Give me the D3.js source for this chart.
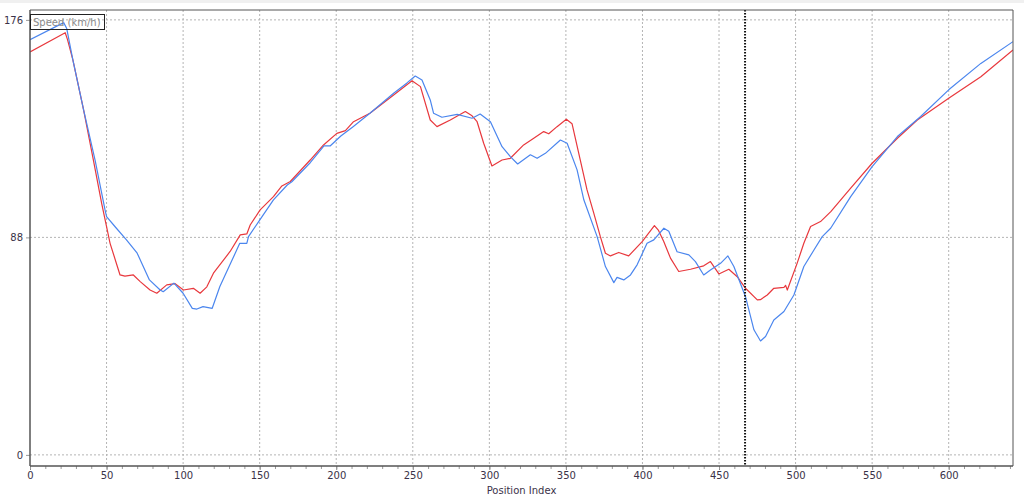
<!DOCTYPE html>
<html>
<head>
<meta charset="utf-8">
<script src="https://cdn.jsdelivr.net/npm/d3@7"></script>
<style>
  html, body { margin: 0; padding: 0; background: #ffffff; }
  svg { display: block; }
  text { font-family: "DejaVu Sans", Verdana, sans-serif; }
</style>
</head>
<body>
<svg id="chart" width="1024" height="496"></svg>
<script>
// ---- data ----
const xMajorTicks = [0, 50, 100, 150, 200, 250, 300, 350, 400, 450, 500, 550, 600];
const yTicks = [0, 88, 176];
const cursorIndex = 467;
const seriesLabel = "Speed (km/h)";
const xAxisTitle = "Position Index";

const blueIndex = [0, 22, 24, 28, 35, 42.5, 49, 50, 56, 63, 70, 78, 85, 87, 94, 100, 106, 109, 113, 119, 124, 131, 137, 141.6, 142.7, 150, 159, 168, 171, 183, 192, 196, 203, 211, 222, 237.5, 246, 251.6, 256, 261.4, 263.6, 269, 279, 288.7, 294, 300.7, 308.3, 313.7, 318.5, 326.8, 331.2, 336.6, 346.4, 350.8, 357.3, 361.7, 370.4, 375.8, 381.3, 383.4, 387.8, 392.2, 396.5, 403, 407.4, 414, 417.2, 422.6, 430.3, 434.6, 440, 444.4, 451, 455.8, 459.7, 467.3, 472.8, 477.1, 480.4, 485.8, 492.4, 498.9, 505.4, 512, 517.4, 522.9, 536, 550, 566.5, 581.7, 600, 621, 642];
const blueSpeed = [168, 174.9, 172.5, 159.8, 139.6, 119.3, 99.1, 96.4, 92, 87, 81.6, 70.8, 66.7, 66, 69.5, 65.4, 59.3, 59, 60, 59.3, 68.1, 77.5, 85.6, 85.6, 88.3, 95, 103.2, 109.2, 110.5, 118.2, 125, 125, 129, 132.8, 138.2, 146.3, 150.4, 153.3, 151.7, 143.6, 138.2, 136.6, 137.8, 136.2, 137.9, 134.8, 124.7, 120.7, 117.7, 121.4, 120, 122, 127.4, 126.1, 115.3, 103.2, 88.3, 76.2, 69.7, 71.8, 70.8, 72.8, 76.9, 85.6, 87, 91.7, 90.5, 82.2, 80.9, 78.2, 72.8, 74.8, 77.5, 80.5, 76.2, 64, 50.6, 46.1, 47.9, 54.6, 58, 64.7, 76.2, 82.9, 88.3, 91.7, 104.5, 116.6, 128.8, 136.9, 147.7, 158.4, 167.2];

const redIndex = [0, 23, 24.5, 28, 35, 41.4, 46.8, 52.3, 58.8, 62, 67.5, 72, 78.4, 82.8, 89.3, 94.8, 100.2, 106.7, 111.1, 115.5, 119.8, 130.7, 137.3, 141.6, 143.8, 150.3, 159, 164.5, 170, 183, 191.7, 200.4, 206, 211.3, 222, 237.5, 249.5, 255, 261.4, 265.8, 274.5, 284.3, 288.7, 292, 296.3, 301.7, 308.3, 313.7, 322.4, 329, 335.5, 338.8, 344.2, 350.3, 354, 358.4, 363.8, 368.2, 372.5, 375.8, 379.1, 384.5, 391, 399.8, 407.8, 410.5, 413.9, 418.3, 423.7, 431.4, 440, 444.4, 449.9, 456.4, 461.9, 467.3, 475, 477, 481.5, 485.8, 492.4, 493.5, 494.6, 501, 505.4, 509.8, 516.3, 523, 536, 550, 566.5, 579.5, 600, 621, 642];
const redSpeed = [163, 170.8, 168, 159.8, 139.6, 119.3, 101.8, 85.6, 72.8, 72.3, 72.8, 70.1, 66.7, 65.4, 68.8, 69.3, 66.7, 67.4, 65.4, 68, 73.5, 82.3, 89, 89.4, 93, 99.1, 104.5, 108.8, 110.6, 119.3, 125.4, 130.1, 131.2, 134.8, 138.2, 145.6, 151.4, 149, 135.5, 132.8, 135.5, 138.9, 137.2, 134.8, 126.1, 116.9, 119.3, 120, 125.4, 128.1, 130.8, 129.9, 132.8, 135.8, 134, 122, 107.2, 97.8, 88.3, 81.6, 80.5, 81.9, 80.5, 86.3, 92.8, 90.8, 86.3, 79.6, 74.2, 75.1, 76.5, 78.2, 73.2, 75.1, 72.1, 67.4, 62.7, 62.8, 64.7, 67.4, 67.8, 68.6, 66.7, 77.5, 85.6, 92.4, 94.4, 98.4, 107.9, 118, 128.1, 135.5, 144.3, 153, 163.8];

// ---- layout ----
const pLeft = 30, pRight = 1013, pTop = 10, pBottom = 466;
const svg = d3.select("#chart");

const x = d3.scaleLinear().domain([0, 642]).range([pLeft, pRight]);
const y = d3.scaleLinear().domain([-4.5, 180]).range([pBottom, pTop]);

// background
svg.append("rect").attr("x", 0).attr("y", 0).attr("width", 1024).attr("height", 3).attr("fill", "#f0f0f0");
svg.append("rect").attr("x", pLeft).attr("y", pTop).attr("width", pRight - pLeft).attr("height", pBottom - pTop).attr("fill", "#ffffff");

// grid
const grid = svg.append("g");
grid.selectAll("line.vg").data(xMajorTicks.filter(d => d > 0)).enter().append("line")
  .attr("x1", d => x(d)).attr("x2", d => x(d)).attr("y1", pTop).attr("y2", pBottom)
  .attr("stroke", "#b4b4b4").attr("stroke-width", 1).attr("stroke-dasharray", "2,2");
grid.selectAll("line.hg").data(yTicks).enter().append("line")
  .attr("x1", pLeft).attr("x2", pRight).attr("y1", d => y(d)).attr("y2", d => y(d))
  .attr("stroke", "#b4b4b4").attr("stroke-width", 1).attr("stroke-dasharray", "2,2");

// clip
svg.append("clipPath").attr("id", "clip").append("rect")
  .attr("x", pLeft).attr("y", pTop).attr("width", pRight - pLeft).attr("height", pBottom - pTop);

function drawSeries(idx, vals, color) {
  const pts = idx.map((d, i) => [d, vals[i]]);
  svg.append("path").datum(pts)
    .attr("clip-path", "url(#clip)")
    .attr("fill", "none").attr("stroke", color).attr("stroke-width", 1.2)
    .attr("stroke-linejoin", "round")
    .attr("d", d3.line().x(d => x(d[0])).y(d => y(d[1])));
}
drawSeries(redIndex, redSpeed, "#e8383d");
drawSeries(blueIndex, blueSpeed, "#4b86ee");

// cursor line
svg.append("line")
  .attr("x1", x(cursorIndex)).attr("x2", x(cursorIndex)).attr("y1", pTop).attr("y2", pBottom)
  .attr("stroke", "#111").attr("stroke-width", 2).attr("stroke-dasharray", "1.5,1.5");

// x axis
const xAxis = d3.axisBottom(x).tickValues(xMajorTicks).tickSize(4).tickPadding(2).tickFormat(d3.format("d"));
const gx = svg.append("g").attr("transform", `translate(0,${pBottom})`).call(xAxis);
gx.select(".domain").remove();
gx.selectAll(".tick line").attr("stroke", "#888");
gx.selectAll(".tick text").attr("fill", "#3a3248").style("font-size", "10px").style("font-family", "DejaVu Sans, Verdana, sans-serif");
const xMinor = d3.axisBottom(x).tickValues(d3.range(0, 641, 10)).tickSize(3).tickFormat("");
const gxm = svg.append("g").attr("transform", `translate(0,${pBottom})`).call(xMinor);
gxm.select(".domain").remove();
gxm.selectAll(".tick line").attr("stroke", "#999");

// y axis
const yAxis = d3.axisLeft(y).tickValues(yTicks).tickSize(4).tickPadding(3).tickFormat(d3.format("d"));
const gy = svg.append("g").attr("transform", `translate(${pLeft},0)`).call(yAxis);
gy.select(".domain").remove();
gy.selectAll(".tick line").attr("stroke", "#999");
gy.selectAll(".tick text").attr("fill", "#3a3248").style("font-size", "10px").style("font-family", "DejaVu Sans, Verdana, sans-serif");

// frame
svg.append("line").attr("x1", pLeft).attr("x2", pLeft).attr("y1", pTop).attr("y2", pBottom).attr("stroke", "#555").attr("stroke-width", 1.5);
svg.append("line").attr("x1", pLeft).attr("x2", pRight).attr("y1", pBottom).attr("y2", pBottom).attr("stroke", "#555").attr("stroke-width", 1.5);
svg.append("line").attr("x1", pRight).attr("x2", pRight).attr("y1", pTop).attr("y2", pBottom).attr("stroke", "#555").attr("stroke-width", 1);
svg.append("line").attr("x1", pLeft).attr("x2", pRight).attr("y1", pTop).attr("y2", pTop).attr("stroke", "#555").attr("stroke-width", 1);

// x axis title
svg.append("text").attr("x", (pLeft + pRight) / 2).attr("y", 494).attr("text-anchor", "middle")
  .attr("fill", "#3a3248").style("font-size", "10px").text(xAxisTitle);

// legend box
const lg = svg.append("g");
lg.append("rect").attr("x", 30.5).attr("y", 14.5).attr("width", 74).attr("height", 15)
  .attr("fill", "none").attr("stroke", "#222").attr("stroke-width", 1);
lg.append("text").attr("x", 33).attr("y", 25.5).attr("fill", "#8a8a8a").style("font-size", "10px").text(seriesLabel);
</script>
</body>
</html>
